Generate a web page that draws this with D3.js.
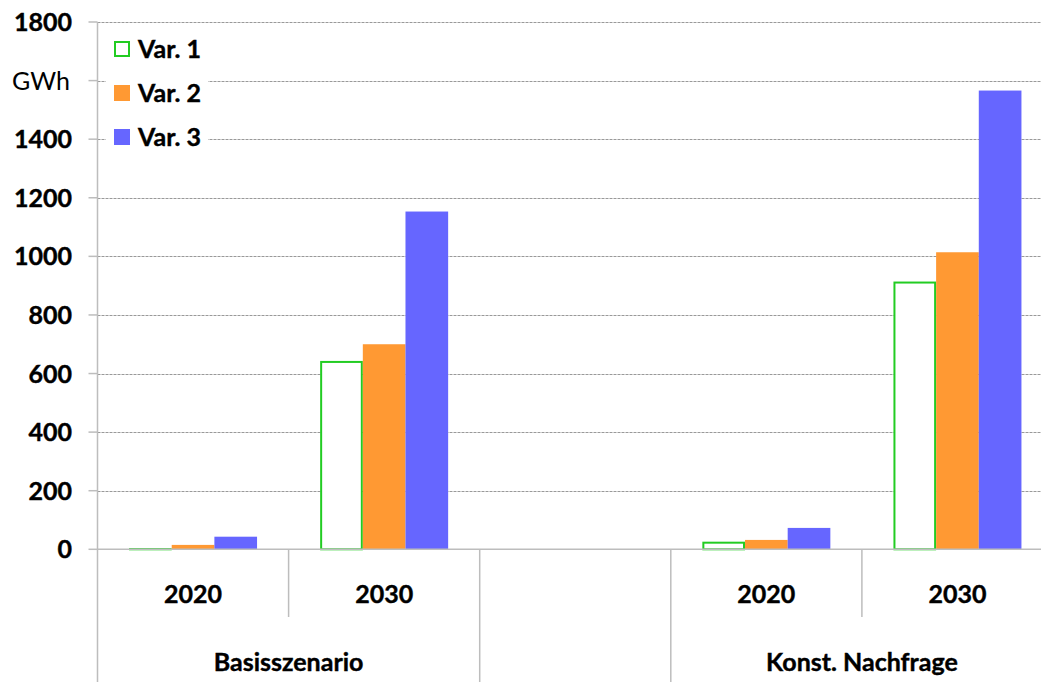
<!DOCTYPE html>
<html><head><meta charset="utf-8">
<script src="https://cdn.jsdelivr.net/npm/d3@7"></script>
<style>
html,body{margin:0;padding:0;background:#fff;}
svg{display:block;font-family:Lato,"Noto Sans",sans-serif;font-weight:bold;}
svg text.lbl{stroke:#000;stroke-width:0.4px;}
</style></head>
<body>
<svg id="chart" width="1041" height="682"></svg>
<script>
const groups = ["Basisszenario", "", "Konst. Nachfrage"];
const years = ["2020", "2030"];
const series = ["Var. 1", "Var. 2", "Var. 3"];
const slots = ["Basisszenario|2020", "Basisszenario|2030", "|gap", "Konst. Nachfrage|2020", "Konst. Nachfrage|2030"];
const var1 = [4, 643, null, 26, 914];
const var2 = [15, 700, null, 32, 1014];
const var3 = [43, 1153, null, 73, 1566];
const yTicks = [0, 200, 400, 600, 800, 1000, 1200, 1400, 1800];
const unitLabel = "GWh";
const unitTick = 1600;

(function () {
const svg = d3.select("#chart");
const pLeft = 97.5, pRight = 1053, pTop = 22, pBottom = 549.3;

const x = d3.scaleBand().domain(slots).range([pLeft, pRight]).paddingInner(0).paddingOuter(0);
const y = d3.scaleLinear().domain([0, 1800]).range([pBottom, pTop]);
const barGroupW = 128;
const xs = d3.scaleBand().domain(series).range([0, barGroupW]);
const fills = ["#ffffff", "#ff9933", "#6666ff"];
const strokes = ["#22cc22", "none", "none"];

// gridlines
const gridVals = yTicks.concat([unitTick]).filter(v => v > 0);
svg.append("g").selectAll("line").data(gridVals).join("line")
  .attr("x1", pLeft).attr("x2", 1041)
  .attr("y1", d => Math.round(y(d)) + 0.5).attr("y2", d => Math.round(y(d)) + 0.5)
  .attr("stroke", "#999").attr("stroke-width", 1).attr("stroke-dasharray", "3,1");

// bars
const allVals = [var1, var2, var3];
const barData = [];
slots.forEach((s, i) => {
  series.forEach((ser, j) => {
    const v = allVals[j][i];
    if (v != null) barData.push({slot: s, ser, j, v});
  });
});
const off = (x.bandwidth() - barGroupW) / 2;
svg.append("g").selectAll("rect").data(barData).join("rect")
  .attr("x", d => x(d.slot) + off + xs(d.ser) + (d.j === 0 ? 1 : 0))
  .attr("width", d => xs.bandwidth() - (d.j === 0 ? 2 : 0))
  .attr("y", d => y(d.v) + (d.j === 0 ? 1 : 0))
  .attr("height", d => Math.max(0, pBottom - y(d.v) - (d.j === 0 ? 1 : 0)))
  .attr("fill", d => fills[d.j])
  .attr("stroke", d => strokes[d.j])
  .attr("stroke-width", 2);

// baseline and axis
svg.append("line").attr("x1", pLeft).attr("x2", 1041).attr("y1", pBottom).attr("y2", pBottom)
  .attr("stroke", "#bdbdbd").attr("stroke-width", 1.5);
svg.append("line").attr("x1", pLeft).attr("x2", pLeft).attr("y1", pTop).attr("y2", 682)
  .attr("stroke", "#bdbdbd").attr("stroke-width", 1.5);

// y ticks
const tickVals = yTicks.concat([unitTick]);
svg.append("g").selectAll("line").data(tickVals).join("line")
  .attr("x1", pLeft - 9).attr("x2", pLeft)
  .attr("y1", d => y(d)).attr("y2", d => y(d))
  .attr("stroke", "#bdbdbd").attr("stroke-width", 1.5);
svg.append("g").selectAll("text").data(yTicks).join("text")
  .attr("class", "lbl")
  .attr("x", 72).attr("y", d => y(d)).attr("dy", "0.36em")
  .attr("text-anchor", "end").attr("font-size", 25).attr("fill", "#000")
  .text(d => d3.format("d")(d));
svg.append("text").attr("x", 12).attr("y", y(unitTick)).attr("dy", "0.36em")
  .attr("font-size", 25).attr("font-weight", "normal").attr("fill", "#000").text(unitLabel);

// category axis separators
const bw = x.bandwidth();
const sepShort = [x(slots[1]), x(slots[4])];
const sepLong = [x(slots[2]), x(slots[3]), pRight];
svg.append("g").selectAll("line").data(sepShort).join("line")
  .attr("x1", d => d).attr("x2", d => d).attr("y1", pBottom).attr("y2", 617)
  .attr("stroke", "#bdbdbd").attr("stroke-width", 1.5);
svg.append("g").selectAll("line").data(sepLong).join("line")
  .attr("x1", d => d).attr("x2", d => d).attr("y1", pBottom).attr("y2", 682)
  .attr("stroke", "#bdbdbd").attr("stroke-width", 1.5);

// year labels
svg.append("g").selectAll("text").data(slots.filter(s => !s.startsWith("|"))).join("text")
  .attr("class", "lbl")
  .attr("x", d => x(d) + bw / 2).attr("y", 603)
  .attr("text-anchor", "middle").attr("font-size", 25).attr("fill", "#000")
  .text(d => d.split("|")[1]);

// group labels
groups.forEach((g) => {
  if (!g) return;
  const ss = slots.filter(s => s.split("|")[0] === g);
  const cx = (x(ss[0]) + x(ss[ss.length - 1]) + bw) / 2;
  svg.append("text").attr("class", "lbl").attr("x", cx).attr("y", 671).attr("text-anchor", "middle")
    .attr("font-size", 25).attr("fill", "#000").text(g);
});

// legend
const lg = svg.append("g");
lg.append("rect").attr("x", 106).attr("y", 32).attr("width", 102).attr("height", 120).attr("fill", "#fff");
const ly = [49, 93, 137];
series.forEach((s, i) => {
  lg.append("rect").attr("x", i === 0 ? 115 : 114).attr("y", ly[i] - 8 + (i === 0 ? 1 : 0))
    .attr("width", i === 0 ? 14 : 16).attr("height", i === 0 ? 14 : 16)
    .attr("fill", fills[i]).attr("stroke", strokes[i]).attr("stroke-width", 2);
  lg.append("text").attr("class", "lbl").attr("x", 138).attr("y", ly[i]).attr("dy", "0.36em")
    .attr("font-size", 25).attr("fill", "#000").text(s);
});
})();
</script>
</body></html>
